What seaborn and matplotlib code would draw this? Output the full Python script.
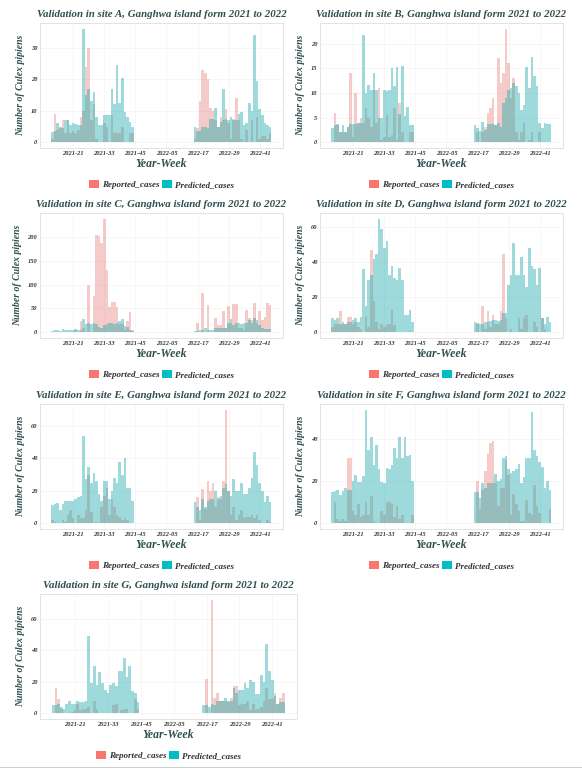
"""
Validation charts: reported vs predicted Culex pipiens counts, Ganghwa island sites A-G
"""

import pandas as pd
import matplotlib.pyplot as plt
import matplotlib.ticker as ticker
from matplotlib.patches import Patch
from matplotlib.lines import Line2D
import seaborn as sns

# ── DATA ──────────────────────────────────────────────────────────────────────

WEEKS_2021 = list(range(13, 45))     # 2021-13 .. 2021-44
WEEKS_2022 = list(range(16, 46))     # 2022-16 .. 2022-45
TICK_WEEKS = [21, 33, 45, 57, 69, 81, 93]
TICK_LABELS = ["2021-21", "2021-33", "2021-45", "2022-05", "2022-17", "2022-29", "2022-41"]

A_REP_2021 = [1, 9, 4, 4.5, 7, 3, 7, 3, 3.5, 3, 4, 8, 10, 24, 30, 7, 12, 1, 0, 0, 6, 5, 0, 8.5, 3, 3, 3, 5, 0, 0, 3, 3]
A_PRED_2021 = [3.3, 3.5, 6, 5, 4.5, 7, 7, 5.5, 6, 5.8, 5.5, 5.5, 36, 15, 17, 13, 16, 8, 5.5, 5.5, 8.5, 8.5, 8.5, 17, 12, 24.5, 12.5, 20.5, 9.5, 8, 6.5, 5]
A_REP_2022 = [1, 4.5, 13, 23, 22, 20, 11, 10, 7, 5, 8, 7, 10.5, 6, 1, 7.5, 14, 7, 1, 0, 4, 0, 7, 0, 8, 1, 2, 2, 1, 3]
A_PRED_2022 = [5, 3.5, 3.5, 5, 5, 4.5, 7.5, 7.5, 11, 5, 6.5, 17, 7.5, 7, 8, 7, 7, 9, 9.5, 5.5, 6, 12.5, 10, 34, 19.5, 10.5, 8.5, 6, 5.5, 5]

B_REP_2021 = [0, 6, 3.5, 2, 2, 2, 3, 14, 1, 10, 4, 5, 4, 7, 5, 3, 10.5, 4, 11, 0.5, 1, 5.5, 1, 1.5, 7, 0.5, 8, 2, 0, 0, 2, 2]
B_PRED_2021 = [2.8, 3.5, 3.8, 2, 3.5, 2, 3, 3.8, 3.8, 3.8, 4, 4, 21.7, 10, 11.6, 10.5, 14, 10.5, 5, 5, 10.5, 10.4, 10.5, 15, 11.3, 15.3, 5.8, 15.4, 5.4, 7.2, 3.5, 3.5]
B_REP_2022 = [0, 2, 0, 2, 3, 6, 7, 9, 3.5, 17, 12, 14, 23, 16, 9, 13, 2, 0.5, 2, 4, 0, 0.5, 2, 0, 0, 2, 0, 0, 0, 0]
B_PRED_2022 = [3.5, 2.8, 2.3, 4.2, 2.5, 3.8, 3.8, 3.8, 3.5, 4, 3, 8, 9, 10.5, 11, 12, 11.5, 10, 6.5, 7.6, 15.2, 11, 17.2, 13.5, 11.3, 4, 2.8, 4, 3.8, 3.8]

C_REP_2021 = [0, 0, 0, 0, 0, 0, 0, 0, 0, 5, 0, 24, 8, 0, 100, 0, 77, 204, 202, 188, 238, 130, 53, 64, 64, 52, 18, 18, 4, 24, 42, 4]
C_PRED_2021 = [3, 4, 4, 3, 6, 4, 4, 4, 4, 7, 4, 5, 28, 17, 19, 18, 19, 17, 12, 10, 15, 17, 20, 20, 17, 20, 23, 27, 14, 12, 4, 3]
C_REP_2022 = [0, 20, 0, 83, 0, 58, 0, 0, 30, 15, 15, 45, 8, 56, 20, 60, 60, 10, 8, 5, 47, 30, 25, 62, 20, 44, 25, 33, 61, 57]
C_PRED_2022 = [3, 3, 5, 5, 9, 5, 5, 5, 8, 8, 8, 10, 10, 20, 27, 16, 20, 20, 17, 20, 20, 25, 20, 30, 25, 15, 10, 6, 7, 6]

D_REP_2021 = [3, 5, 5, 12, 5, 5, 9, 9, 5, 6, 3, 2, 0, 9, 3, 47, 18, 6, 2, 5, 3, 4, 5, 13, 4, 0, 0, 0, 0, 0, 1, 0]
D_PRED_2021 = [8, 7, 8, 5, 6, 5, 6, 6, 7, 8, 6, 9, 36, 15, 30, 33, 42, 45, 65, 59, 48, 52, 33, 38, 31, 30, 37, 30, 10, 10, 13, 6]
D_REP_2022 = [0, 5, 0, 15, 2, 12, 3, 10, 5, 5, 12, 45, 8, 0, 2, 0, 0, 8, 2, 8, 10, 0, 0, 6, 3, 0, 8, 2, 0, 0]
D_PRED_2022 = [6, 5.5, 5, 5, 6, 6, 6.5, 7, 7, 6.5, 7, 11, 11, 27, 33, 51, 33, 33, 43, 33, 26, 48, 38, 36, 27, 37, 8, 5, 9, 6]

E_REP_2021 = [2, 1, 0, 0, 2, 1, 5, 8, 3, 0, 5, 3, 3, 8, 30, 7, 0, 1, 0, 10, 17, 22, 5, 15, 10, 5, 4, 2, 3, 2, 0, 0]
E_PRED_2021 = [11, 12, 12.5, 8, 12, 14, 13.5, 14, 14, 15, 16, 17, 54, 27, 35, 25, 31, 26, 18, 14, 26, 26, 15, 20, 28, 25, 38, 30, 40, 22, 22, 14]
E_REP_2022 = [0, 16, 2, 21, 9, 26, 20, 25, 10, 16, 15, 26, 70, 20, 5, 10, 2, 5, 8, 3, 4, 4, 5, 3, 5, 2, 0, 0, 2, 1]
E_PRED_2022 = [13, 10, 8, 15, 10, 14, 15, 15, 20, 15, 17, 22, 24, 20, 17, 27, 20, 20, 25, 18, 18, 22, 28, 44, 36, 25, 20, 13, 17, 13]

F_REP_2021 = [0, 10, 2, 1, 2, 1, 31, 31, 6, 4, 9, 3, 4, 10, 4, 13, 1, 0, 0, 6, 4, 10, 10, 9, 3, 8, 2, 4, 0, 0, 0, 4]
F_PRED_2021 = [15, 15.5, 16, 13.5, 15.5, 17, 16, 16, 20, 23, 19.5, 19.5, 22.5, 54, 35, 41, 27.5, 37, 26, 19.5, 19, 26.5, 26, 27.5, 36, 31, 41, 31, 41, 32, 32.5, 20]
F_REP_2022 = [0, 20, 7, 16, 25, 33, 38, 39, 19, 8, 17, 17, 30, 23, 4, 14, 9, 6, 1, 1, 11, 5, 4, 18, 8, 5, 0, 0, 0, 7]
F_PRED_2022 = [15, 15, 12, 19, 17, 19, 19, 19, 23.5, 20, 21, 31, 32, 26, 24, 25, 26, 28, 19, 22, 31, 31, 53, 35, 32, 29, 27, 17, 20, 16]

G_REP_2021 = [0, 16, 9, 3, 0, 0, 0, 1, 2, 6, 2, 3, 3, 4, 0, 8, 3, 0, 0, 0, 0, 0, 5, 6, 0, 2, 3, 3, 0, 0, 9, 3]
G_PRED_2021 = [5, 5, 6, 4, 3, 6, 8, 6, 6, 8, 7, 7, 8, 49, 19, 30, 18, 26, 19, 15, 13, 18, 19, 17, 27, 27, 35, 23, 30, 14, 13, 7]
G_REP_2022 = [0, 22, 0, 72, 10, 13, 8, 8, 8, 7, 10, 17, 17, 5, 6, 6, 8, 2, 6, 2, 3, 4, 8, 16, 9, 9, 13, 6, 10, 13]
G_PRED_2022 = [5.5, 5.5, 4, 6, 5, 8, 8, 8, 10, 8, 8, 16, 13, 15, 15, 19, 16, 21, 20, 12, 12, 24, 20, 44, 27, 21, 11, 6, 7, 7]

# site, data lists, y tick step, axes box in pixels (left, top, right, bottom)
SITES = [
    ("A", A_REP_2021, A_PRED_2021, A_REP_2022, A_PRED_2022, 10, (40, 23, 283, 148)),
    ("B", B_REP_2021, B_PRED_2021, B_REP_2022, B_PRED_2022, 5, (320, 23, 563, 148)),
    ("C", C_REP_2021, C_PRED_2021, C_REP_2022, C_PRED_2022, 50, (40, 213, 283, 338)),
    ("D", D_REP_2021, D_PRED_2021, D_REP_2022, D_PRED_2022, 20, (320, 213, 563, 338)),
    ("E", E_REP_2021, E_PRED_2021, E_REP_2022, E_PRED_2022, 20, (40, 404, 283, 529)),
    ("F", F_REP_2021, F_PRED_2021, F_REP_2022, F_PRED_2022, 20, (320, 404, 563, 529)),
    ("G", G_REP_2021, G_PRED_2021, G_REP_2022, G_PRED_2022, 20, (40, 594, 297, 719)),
]

# ── SETUP ─────────────────────────────────────────────────────────────────────

sns.set_theme(style="whitegrid")
plt.rcParams["font.family"] = ["Liberation Serif", "DejaVu Serif"]

REP_COLOR = "#F8766D"
PRED_COLOR = "#00BFC4"
TITLE_COLOR = "#2F4F4F"
TEXT_COLOR = "#333333"
W, H = 582, 774

fig = plt.figure(figsize=(W / 100, H / 100), dpi=100)
fig.patch.set_facecolor("white")


def long_frame(rep21, pred21, rep22, pred22):
    idx21 = WEEKS_2021
    idx22 = [52 + w for w in WEEKS_2022]
    parts = [
        pd.DataFrame({"idx": idx21, "value": rep21, "series": "Reported_cases"}),
        pd.DataFrame({"idx": idx22, "value": rep22, "series": "Reported_cases"}),
        pd.DataFrame({"idx": idx21, "value": pred21, "series": "Predicted_cases"}),
        pd.DataFrame({"idx": idx22, "value": pred22, "series": "Predicted_cases"}),
    ]
    return pd.concat(parts, ignore_index=True)


txt = dict(fontweight="bold", fontstyle="italic")

for site, rep21, pred21, rep22, pred22, step, (l, t, r, b) in SITES:
    ax = fig.add_axes([l / W, 1 - b / H, (r - l) / W, (b - t) / H])
    df = long_frame(rep21, pred21, rep22, pred22)
    sns.barplot(data=df, x="idx", y="value", hue="series",
                hue_order=["Reported_cases", "Predicted_cases"],
                palette=[REP_COLOR, PRED_COLOR], dodge=False, native_scale=True,
                width=1.0, alpha=0.42, errorbar=None, legend=False, ax=ax,
                linewidth=0)

    ymax = df["value"].max()
    ax.set_ylim(-0.05 * ymax, 1.05 * ymax)
    ax.set_xlim(8.2, 102)
    ax.set_xticks(TICK_WEEKS)
    ax.set_xticklabels(TICK_LABELS)
    ax.yaxis.set_major_locator(ticker.MultipleLocator(step))
    ax.tick_params(length=0, pad=2, labelsize=4.6, labelcolor=TEXT_COLOR)
    for lab in ax.get_xticklabels() + ax.get_yticklabels():
        lab.set_fontweight("bold")
        lab.set_fontstyle("italic")

    ax.grid(True, color="#f3f3f3", linewidth=0.5)
    ax.set_axisbelow(True)
    for s in ax.spines.values():
        s.set_visible(True)
        s.set_color("#e3e3e3")
        s.set_linewidth(0.7)

    ax.set_title(f"Validation in site {site}, Ganghwa island form 2021 to 2022",
                 fontsize=7.8, color=TITLE_COLOR, pad=4, **txt)
    ax.set_xlabel("Year-Week", fontsize=8.5, color=TITLE_COLOR, labelpad=1.5, **txt)
    ax.set_ylabel("Number of Culex pipiens", fontsize=7, color=TITLE_COLOR, labelpad=4, **txt)

    handles = [Patch(facecolor=REP_COLOR, edgecolor="none", label="Reported_cases"),
               Patch(facecolor=PRED_COLOR, edgecolor="none", label="Predicted_cases")]
    leg = ax.legend(handles=handles, loc="center", bbox_to_anchor=(0.5, -0.29),
                    ncol=2, frameon=False, handlelength=1.1, handleheight=1.1,
                    handletextpad=0.4, columnspacing=0.2,
                    prop={"size": 6.5, "weight": "bold", "style": "italic"})
    for tx in leg.get_texts():
        tx.set_color(TEXT_COLOR)

# thin frame line at the bottom of the page
fig.add_artist(Line2D([0, 1], [1 - 767 / H, 1 - 767 / H], color="#cccccc", linewidth=0.8))

plt.savefig("out.png", dpi=100, facecolor="white")
plt.close()
print("Saved: out.png")
